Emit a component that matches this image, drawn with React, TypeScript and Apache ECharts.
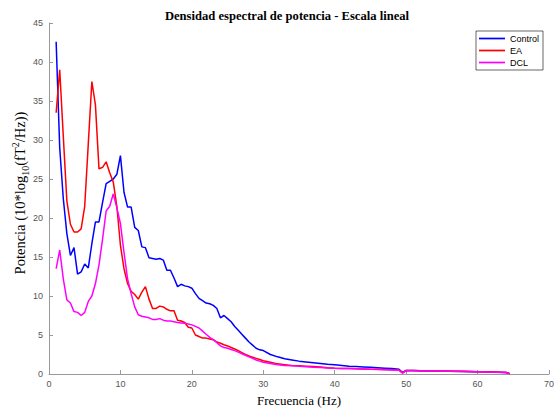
import React, { useEffect, useRef } from "react";
import * as echarts from "echarts";

const freq = [
  1, 1.5, 2, 2.5, 3, 3.5, 4, 4.5, 5, 5.5,
  6, 6.5, 7, 7.5, 8, 8.5, 9, 9.5, 10, 10.5,
  11, 11.5, 12, 12.5, 13, 13.5, 14, 14.5, 15, 15.5,
  16, 16.5, 17, 17.5, 18, 18.5, 19, 19.5, 20, 20.5,
  21, 21.5, 22, 22.5, 23, 23.5, 24, 24.5, 25, 25.5,
  26, 26.5, 27, 27.5, 28, 28.5, 29, 29.5, 30,
  31, 32, 33, 34, 35, 36, 37, 38, 39, 40,
  41, 42, 43, 44, 45, 46, 47, 48, 49,
  49.5, 50, 51, 52, 54, 56, 58, 60, 62, 64, 64.5,
];

const control = [
  42.6, 29, 22.5, 18, 15.2, 16.2, 12.8, 13.1, 14.1, 13.6,
  16.7, 19.5, 19.5, 22, 24.4, 24.7, 25, 25.6, 28, 23.3,
  21.4, 21.4, 18.8, 18.4, 16.3, 16.2, 14.9, 14.8, 14.7, 14.8,
  14.6, 13.3, 13.3, 12.3, 11.2, 11.5, 11.3, 11.2, 11.0, 10.3,
  9.7, 9.4, 9.1, 9.0, 8.8, 8.4, 7.2, 7.5, 7.1, 6.7,
  6.1, 5.6, 5.1, 4.6, 4.1, 3.7, 3.3, 3.1, 3.0,
  2.5, 2.2, 1.95, 1.8, 1.65, 1.55, 1.45, 1.35, 1.25, 1.2,
  1.1, 1.0, 0.95, 0.9, 0.85, 0.8, 0.75, 0.7, 0.6,
  0.2, 0.45, 0.45, 0.42, 0.4, 0.36, 0.33, 0.3, 0.25, 0.2, 0.05,
];

const ea = [
  33.5, 39, 30.5, 22.2, 19.2, 18.2, 18.2, 18.6, 21.5, 29.5,
  37.5, 34.5, 26.3, 26.5, 27.2, 25.8, 24.6, 21.5, 16.5, 13.5,
  11.6, 10.6, 10.2, 9.6, 10.5, 11.2, 9.6, 8.4, 8.4, 8.7,
  8.6, 8.3, 8.1, 8.1, 6.9, 6.8, 6.6, 6.0, 5.9, 5.0,
  4.8, 4.6, 4.6, 4.5, 4.4, 4.1, 3.95, 3.75, 3.6, 3.4,
  3.2, 3.0, 2.75, 2.5, 2.3, 2.15, 2.0, 1.85, 1.7,
  1.5, 1.3, 1.2, 1.1, 1.05, 1.0, 0.95, 0.9, 0.8, 0.75,
  0.72, 0.7, 0.68, 0.65, 0.62, 0.6, 0.58, 0.55, 0.5,
  0.15, 0.45, 0.45, 0.43, 0.4, 0.37, 0.34, 0.3, 0.26, 0.2, 0.05,
];

const dcl = [
  13.5, 15.9, 12.2, 9.5, 9.1, 8.0, 7.9, 7.5, 7.9, 9.3,
  10.0, 11.6, 14.0, 17.3, 20.9, 21.5, 23.1, 21.3, 19.3, 15.6,
  12.2, 10.3, 8.6, 7.6, 7.4, 7.3, 7.2, 7.0, 7.0, 7.1,
  6.9, 6.8, 6.8, 6.7, 6.6, 6.55, 6.5, 6.4, 6.3, 6.1,
  5.9, 5.5, 5.1, 4.7, 4.4, 4.0, 3.6, 3.4, 3.3, 3.15,
  3.0, 2.8, 2.6, 2.4, 2.2, 2.0, 1.8, 1.65, 1.5,
  1.35, 1.2, 1.1, 1.05, 0.98, 0.92, 0.86, 0.82, 0.78, 0.74,
  0.72, 0.7, 0.67, 0.64, 0.6, 0.58, 0.55, 0.52, 0.48,
  0.12, 0.42, 0.42, 0.4, 0.37, 0.34, 0.31, 0.28, 0.24, 0.18, 0.03,
];

const seriesNames = ["Control", "EA", "DCL"];
const seriesColors = ["#0000ff", "#ff0000", "#ff00ff"];
const seriesValues = [control, ea, dcl];

const serif = "'Liberation Serif', 'Times New Roman', serif";
const sans = "'Liberation Sans', Arial, sans-serif";

export default function App() {
  const ref = useRef<HTMLDivElement>(null);

  useEffect(() => {
    if (!ref.current) return;
    const chart = echarts.init(ref.current, null, { renderer: "svg" });
    const axisGray = "#999999";
    const labelGray = "#555555";
    chart.setOption({
      animation: false,
      backgroundColor: "#ffffff",
      title: {
        text: "Densidad espectral de potencia - Escala lineal",
        left: 282,
        textAlign: "center",
        top: 4,
        textStyle: {
          fontFamily: serif,
          fontWeight: "bold",
          fontSize: 12.6,
          color: "#000",
        },
      },
      legend: {
        orient: "vertical",
        right: 14,
        top: 31,
        itemWidth: 26,
        itemHeight: 8,
        itemGap: 3,
        padding: [3, 4, 3, 3],
        borderColor: "#000",
        borderWidth: 0.6,
        backgroundColor: "#fff",
        textStyle: { fontFamily: sans, fontSize: 9, color: "#000" },
        data: seriesNames.map((n) => ({ name: n, icon: "path://M0,0 L30,0 L30,2 L0,2 Z" })),
      },
      graphic: [
        {
          type: "text",
          x: 20,
          y: 193,
          rotation: Math.PI / 2,
          style: {
            text: "{a|Potencia (10*log}{sub|10}{a|(fT}{sup|2}{a|/Hz))}",
            align: "center",
            verticalAlign: "middle",
            rich: {
              a: { fontFamily: serif, fontSize: 14.5, fill: "#000", lineHeight: 20, verticalAlign: "middle" },
              sub: { fontFamily: serif, fontSize: 10, fill: "#000", lineHeight: 20, verticalAlign: "bottom" },
              sup: { fontFamily: serif, fontSize: 10, fill: "#000", lineHeight: 20, verticalAlign: "top" },
            },
          },
        },
      ],
      grid: { left: 49, right: 6, top: 23, bottom: 36, containLabel: false },
      xAxis: {
        type: "value",
        min: 0,
        max: 70,
        interval: 10,
        name: "Frecuencia (Hz)",
        nameLocation: "middle",
        nameGap: 20,
        nameTextStyle: { fontFamily: serif, fontSize: 13, color: "#000" },
        axisLine: { lineStyle: { color: axisGray, width: 1 } },
        axisTick: { inside: true, length: 4, lineStyle: { color: axisGray } },
        axisLabel: { fontFamily: sans, fontSize: 9, color: labelGray, margin: 5 },
        splitLine: { show: false },
      },
      yAxis: {
        type: "value",
        min: 0,
        max: 45,
        interval: 5,
        axisLine: { show: true, lineStyle: { color: axisGray, width: 1 } },
        axisTick: { show: true, inside: true, length: 4, lineStyle: { color: axisGray } },
        axisLabel: { fontFamily: sans, fontSize: 9, color: labelGray, margin: 6 },
        splitLine: { show: false },
      },
      series: seriesNames.map((name, k) => ({
        name,
        type: "line",
        showSymbol: false,
        symbol: "none",
        color: seriesColors[k],
        lineStyle: { color: seriesColors[k], width: 1.5 },
        data: freq.map((f, i) => [f, seriesValues[k][i]]),
      })),
    });
    return () => chart.dispose();
  }, []);

  return (
    <div
      ref={ref}
      style={{ position: "fixed", left: 0, top: 0, width: 557, height: 412 }}
    />
  );
}
